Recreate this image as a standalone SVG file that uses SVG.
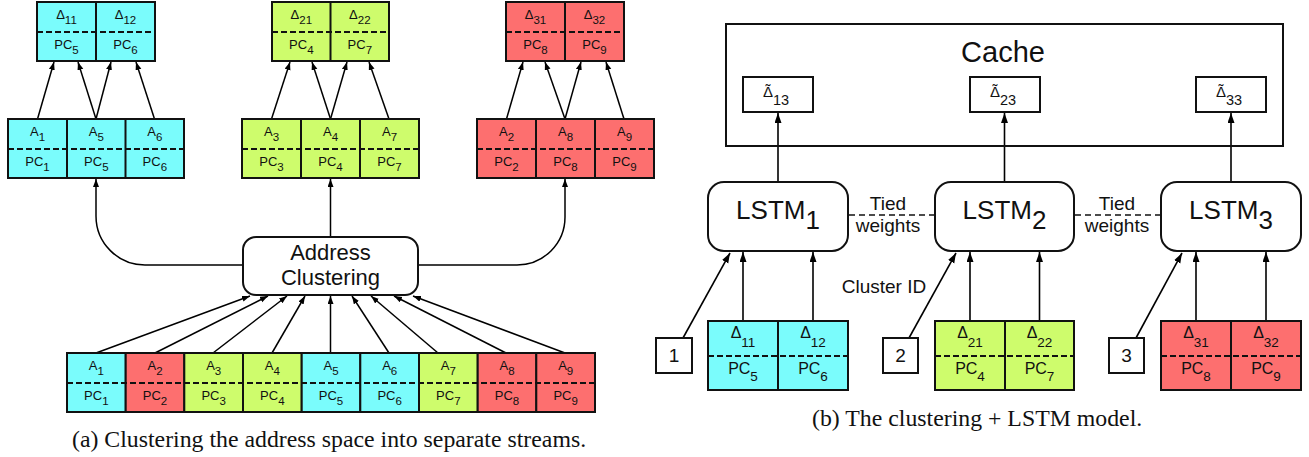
<svg xmlns="http://www.w3.org/2000/svg" width="1309" height="457" viewBox="0 0 1309 457">
<style>
.cell{stroke:#111;stroke-width:2}
.cy{fill:#7AFCFC}.gr{fill:#CEFC6C}.rd{fill:#FD6F6F}
.div{stroke:#111;stroke-width:2}
.dash{stroke:#111;stroke-width:2;stroke-dasharray:6 3}
.lbl{font-family:"Liberation Sans",Arial,sans-serif;font-size:13px;text-anchor:middle;fill:#111}
.sub{font-size:11.5px}
.lbl2{font-family:"Liberation Sans",Arial,sans-serif;font-size:16px;text-anchor:middle;fill:#111}
.sub2{font-size:13.5px}
.box{fill:#fff;stroke:#111;stroke-width:2}
.conn{stroke:#000;stroke-width:1.5;fill:none;marker-end:url(#ah)}
.conn2{stroke:#000;stroke-width:1.6;fill:none;marker-end:url(#ah2)}
.tie{stroke:#111;stroke-width:1.5;stroke-dasharray:6 4;fill:none}
.big{font-family:"Liberation Sans",Arial,sans-serif;fill:#111;text-anchor:middle}
.dt{font-family:"Liberation Sans",Arial,sans-serif;fill:#111;font-size:15px}
.dts{font-size:14.5px}
.cap{font-family:"Liberation Serif","Times New Roman",serif;font-size:23.8px;fill:#111}
</style>
<defs>
<marker id="ah" markerUnits="userSpaceOnUse" markerWidth="9" markerHeight="7" refX="8" refY="3" orient="auto"><path d="M0,0 L8,3 L0,6 z" fill="#000"/></marker>
<marker id="ah2" markerUnits="userSpaceOnUse" markerWidth="11" markerHeight="8" refX="10" refY="3.5" orient="auto"><path d="M0,0 L10,3.5 L0,7 z" fill="#000"/></marker>
</defs>
<rect width="1309" height="457" fill="#fff"/>

<!-- connectors -->
<g id="connectors">
<line class="conn" x1="37.5" y1="119" x2="54" y2="62"/>
<line class="conn" x1="96" y1="119" x2="78" y2="62"/>
<line class="conn" x1="96" y1="119" x2="111" y2="62"/>
<line class="conn" x1="154.5" y1="119" x2="136" y2="62"/>
<line class="conn" x1="271.5" y1="119" x2="290" y2="62"/>
<line class="conn" x1="330.5" y1="119" x2="312" y2="62"/>
<line class="conn" x1="330.5" y1="119" x2="347" y2="62"/>
<line class="conn" x1="389" y1="119" x2="369" y2="62"/>
<line class="conn" x1="506.5" y1="119" x2="523" y2="62"/>
<line class="conn" x1="565" y1="119" x2="545" y2="62"/>
<line class="conn" x1="565" y1="119" x2="581" y2="62"/>
<line class="conn" x1="624" y1="119" x2="606" y2="62"/>
<path class="conn" d="M243,265 H145 A49,49 0 0 1 96,216 V179"/>
<line class="conn" x1="330.5" y1="237" x2="330.5" y2="179"/>
<path class="conn" d="M418,265 H517 A48,48 0 0 0 565,217 V179"/>
<line class="conn" x1="96" y1="353" x2="250" y2="296"/>
<line class="conn" x1="155" y1="353" x2="268" y2="296"/>
<line class="conn" x1="213" y1="353" x2="287" y2="296"/>
<line class="conn" x1="272" y1="353" x2="305" y2="296"/>
<line class="conn" x1="330.5" y1="353" x2="330.5" y2="296"/>
<line class="conn" x1="389" y1="353" x2="352" y2="296"/>
<line class="conn" x1="438" y1="353" x2="371" y2="296"/>
<line class="conn" x1="506" y1="353" x2="394" y2="296"/>
<line class="conn" x1="565" y1="353" x2="413" y2="296"/>
<line class="conn2" x1="778" y1="182" x2="778" y2="113"/>
<line class="conn2" x1="1004.5" y1="182" x2="1004.5" y2="113"/>
<line class="conn2" x1="1231" y1="182" x2="1231" y2="113"/>
<line class="conn2" x1="743" y1="321" x2="743" y2="252"/>
<line class="conn2" x1="813" y1="321" x2="813" y2="252"/>
<line class="conn2" x1="970" y1="321" x2="970" y2="252"/>
<line class="conn2" x1="1039.5" y1="321" x2="1039.5" y2="252"/>
<line class="conn2" x1="1196" y1="321" x2="1196" y2="252"/>
<line class="conn2" x1="1266" y1="321" x2="1266" y2="252"/>
<line class="conn2" x1="683" y1="338" x2="730" y2="253"/>
<line class="conn2" x1="909" y1="338" x2="956" y2="253"/>
<line class="conn2" x1="1136" y1="338" x2="1182" y2="253"/>
<line class="tie" x1="849" y1="215" x2="934" y2="215"/>
<line class="tie" x1="1075" y1="215" x2="1160" y2="215"/>
</g>

<g id="top-cyan">
<rect class="cell cy" x="37" y="2" width="118" height="59"/>
<line class="div" x1="96" y1="2" x2="96" y2="61"/>
<line class="dash" x1="37" y1="32" x2="155" y2="32"/>
<text class="lbl" x="66.5" y="19">Δ<tspan class="sub" dy="5">11</tspan></text>
<text class="lbl" x="66.5" y="49">PC<tspan class="sub" dy="4.5">5</tspan></text>
<text class="lbl" x="125.5" y="19">Δ<tspan class="sub" dy="5">12</tspan></text>
<text class="lbl" x="125.5" y="49">PC<tspan class="sub" dy="4.5">6</tspan></text>
</g>
<g id="top-green">
<rect class="cell gr" x="272" y="2" width="117" height="59"/>
<line class="div" x1="330.5" y1="2" x2="330.5" y2="61"/>
<line class="dash" x1="272" y1="32" x2="389" y2="32"/>
<text class="lbl" x="301.3" y="19">Δ<tspan class="sub" dy="5">21</tspan></text>
<text class="lbl" x="301.3" y="49">PC<tspan class="sub" dy="4.5">4</tspan></text>
<text class="lbl" x="359.8" y="19">Δ<tspan class="sub" dy="5">22</tspan></text>
<text class="lbl" x="359.8" y="49">PC<tspan class="sub" dy="4.5">7</tspan></text>
</g>
<g id="top-red">
<rect class="cell rd" x="506" y="2" width="118" height="59"/>
<line class="div" x1="565" y1="2" x2="565" y2="61"/>
<line class="dash" x1="506" y1="32" x2="624" y2="32"/>
<text class="lbl" x="535.5" y="19">Δ<tspan class="sub" dy="5">31</tspan></text>
<text class="lbl" x="535.5" y="49">PC<tspan class="sub" dy="4.5">8</tspan></text>
<text class="lbl" x="594.5" y="19">Δ<tspan class="sub" dy="5">32</tspan></text>
<text class="lbl" x="594.5" y="49">PC<tspan class="sub" dy="4.5">9</tspan></text>
</g>

<g id="mid-cyan">
<rect class="cell cy" x="8" y="119" width="176" height="59"/>
<line class="div" x1="67" y1="119" x2="67" y2="178"/>
<line class="div" x1="125.5" y1="119" x2="125.5" y2="178"/>
<line class="dash" x1="8" y1="149" x2="184" y2="149"/>
<text class="lbl" x="37.5" y="136">A<tspan class="sub" dy="5">1</tspan></text>
<text class="lbl" x="37.5" y="166">PC<tspan class="sub" dy="4.5">1</tspan></text>
<text class="lbl" x="96.3" y="136">A<tspan class="sub" dy="5">5</tspan></text>
<text class="lbl" x="96.3" y="166">PC<tspan class="sub" dy="4.5">5</tspan></text>
<text class="lbl" x="154.8" y="136">A<tspan class="sub" dy="5">6</tspan></text>
<text class="lbl" x="154.8" y="166">PC<tspan class="sub" dy="4.5">6</tspan></text>
</g>
<g id="mid-green">
<rect class="cell gr" x="242" y="119" width="177" height="59"/>
<line class="div" x1="301" y1="119" x2="301" y2="178"/>
<line class="div" x1="360" y1="119" x2="360" y2="178"/>
<line class="dash" x1="242" y1="149" x2="419" y2="149"/>
<text class="lbl" x="271.5" y="136">A<tspan class="sub" dy="5">3</tspan></text>
<text class="lbl" x="271.5" y="166">PC<tspan class="sub" dy="4.5">3</tspan></text>
<text class="lbl" x="330.5" y="136">A<tspan class="sub" dy="5">4</tspan></text>
<text class="lbl" x="330.5" y="166">PC<tspan class="sub" dy="4.5">4</tspan></text>
<text class="lbl" x="389.5" y="136">A<tspan class="sub" dy="5">7</tspan></text>
<text class="lbl" x="389.5" y="166">PC<tspan class="sub" dy="4.5">7</tspan></text>
</g>
<g id="mid-red">
<rect class="cell rd" x="477" y="119" width="177" height="59"/>
<line class="div" x1="536" y1="119" x2="536" y2="178"/>
<line class="div" x1="595" y1="119" x2="595" y2="178"/>
<line class="dash" x1="477" y1="149" x2="654" y2="149"/>
<text class="lbl" x="506.5" y="136">A<tspan class="sub" dy="5">2</tspan></text>
<text class="lbl" x="506.5" y="166">PC<tspan class="sub" dy="4.5">2</tspan></text>
<text class="lbl" x="565.5" y="136">A<tspan class="sub" dy="5">8</tspan></text>
<text class="lbl" x="565.5" y="166">PC<tspan class="sub" dy="4.5">8</tspan></text>
<text class="lbl" x="624.5" y="136">A<tspan class="sub" dy="5">9</tspan></text>
<text class="lbl" x="624.5" y="166">PC<tspan class="sub" dy="4.5">9</tspan></text>
</g>

<g id="address-clustering">
<rect class="box" x="243" y="237" width="175" height="58" rx="13" ry="13"/>
<text class="big" x="330.5" y="260" font-size="22">Address</text>
<text class="big" x="330.5" y="285" font-size="22">Clustering</text>
</g>

<g id="bottom-row">
<rect class="cell cy" x="67" y="353" width="58.7" height="59"/>
<rect class="cell rd" x="125.7" y="353" width="58.6" height="59"/>
<rect class="cell gr" x="184.3" y="353" width="58.7" height="59"/>
<rect class="cell gr" x="243" y="353" width="58.7" height="59"/>
<rect class="cell cy" x="301.7" y="353" width="58.6" height="59"/>
<rect class="cell cy" x="360.3" y="353" width="58.7" height="59"/>
<rect class="cell gr" x="419" y="353" width="58.7" height="59"/>
<rect class="cell rd" x="477.7" y="353" width="58.6" height="59"/>
<rect class="cell rd" x="536.3" y="353" width="58.7" height="59"/>
<line class="dash" x1="67" y1="383" x2="595" y2="383"/>
<text class="lbl" x="96.3" y="370">A<tspan class="sub" dy="5">1</tspan></text>
<text class="lbl" x="96.3" y="400">PC<tspan class="sub" dy="4.5">1</tspan></text>
<text class="lbl" x="155" y="370">A<tspan class="sub" dy="5">2</tspan></text>
<text class="lbl" x="155" y="400">PC<tspan class="sub" dy="4.5">2</tspan></text>
<text class="lbl" x="213.7" y="370">A<tspan class="sub" dy="5">3</tspan></text>
<text class="lbl" x="213.7" y="400">PC<tspan class="sub" dy="4.5">3</tspan></text>
<text class="lbl" x="272.3" y="370">A<tspan class="sub" dy="5">4</tspan></text>
<text class="lbl" x="272.3" y="400">PC<tspan class="sub" dy="4.5">4</tspan></text>
<text class="lbl" x="331" y="370">A<tspan class="sub" dy="5">5</tspan></text>
<text class="lbl" x="331" y="400">PC<tspan class="sub" dy="4.5">5</tspan></text>
<text class="lbl" x="389.7" y="370">A<tspan class="sub" dy="5">6</tspan></text>
<text class="lbl" x="389.7" y="400">PC<tspan class="sub" dy="4.5">6</tspan></text>
<text class="lbl" x="448.3" y="370">A<tspan class="sub" dy="5">7</tspan></text>
<text class="lbl" x="448.3" y="400">PC<tspan class="sub" dy="4.5">7</tspan></text>
<text class="lbl" x="507" y="370">A<tspan class="sub" dy="5">8</tspan></text>
<text class="lbl" x="507" y="400">PC<tspan class="sub" dy="4.5">8</tspan></text>
<text class="lbl" x="565.7" y="370">A<tspan class="sub" dy="5">9</tspan></text>
<text class="lbl" x="565.7" y="400">PC<tspan class="sub" dy="4.5">9</tspan></text>
</g>

<text class="cap" x="72" y="447">(a) Clustering the address space into separate streams.</text>

<g id="cache">
<rect x="726" y="24" width="557" height="122" fill="none" stroke="#111" stroke-width="2"/>
<text class="big" x="1003" y="62" font-size="29">Cache</text>
</g>
<g id="cache-d13">
<rect class="box" x="743" y="77" width="70" height="35"/>
<text class="dt" x="763" y="97">Δ<tspan dx="-7.5" dy="-2">˜</tspan><tspan class="dts" dx="2.5" dy="10">13</tspan></text>
</g>
<g id="cache-d23">
<rect class="box" x="970" y="77" width="70" height="35"/>
<text class="dt" x="990" y="97">Δ<tspan dx="-7.5" dy="-2">˜</tspan><tspan class="dts" dx="2.5" dy="10">23</tspan></text>
</g>
<g id="cache-d33">
<rect class="box" x="1196" y="77" width="70" height="35"/>
<text class="dt" x="1216" y="97">Δ<tspan dx="-7.5" dy="-2">˜</tspan><tspan class="dts" dx="2.5" dy="10">33</tspan></text>
</g>

<g id="lstm1">
<rect class="box" x="708" y="182" width="140" height="69" rx="16" ry="16"/>
<text class="big" x="778" y="219" font-size="26">LSTM<tspan dy="10">1</tspan></text>
</g>
<g id="lstm2">
<rect class="box" x="935" y="182" width="139" height="69" rx="16" ry="16"/>
<text class="big" x="1004.5" y="219" font-size="26">LSTM<tspan dy="10">2</tspan></text>
</g>
<g id="lstm3">
<rect class="box" x="1161" y="182" width="140" height="69" rx="16" ry="16"/>
<text class="big" x="1231" y="219" font-size="26">LSTM<tspan dy="10">3</tspan></text>
</g>

<g id="tied-labels">
<text class="big" x="888" y="210" font-size="19">Tied</text>
<text class="big" x="888" y="232" font-size="19">weights</text>
<text class="big" x="1117" y="210" font-size="19">Tied</text>
<text class="big" x="1117" y="232" font-size="19">weights</text>
</g>
<text class="big" x="884" y="293" font-size="19">Cluster ID</text>

<g id="cid1">
<rect class="box" x="656" y="338" width="36" height="35"/>
<text class="big" x="674" y="362" font-size="19">1</text>
</g>
<g id="cid2">
<rect class="box" x="883" y="338" width="35" height="35"/>
<text class="big" x="900.5" y="362" font-size="19">2</text>
</g>
<g id="cid3">
<rect class="box" x="1109" y="338" width="35" height="35"/>
<text class="big" x="1126.5" y="362" font-size="19">3</text>
</g>

<g id="in-cyan">
<rect class="cell cy" x="708" y="321" width="140" height="69"/>
<line class="div" x1="778" y1="321" x2="778" y2="390"/>
<line class="dash" x1="708" y1="356" x2="848" y2="356"/>
<text class="lbl2" x="743" y="338">Δ<tspan class="sub2" dy="8.5">11</tspan></text>
<text class="lbl2" x="743" y="374">PC<tspan class="sub2" dy="6.5">5</tspan></text>
<text class="lbl2" x="813" y="338">Δ<tspan class="sub2" dy="8.5">12</tspan></text>
<text class="lbl2" x="813" y="374">PC<tspan class="sub2" dy="6.5">6</tspan></text>
</g>
<g id="in-green">
<rect class="cell gr" x="935" y="321" width="139" height="69"/>
<line class="div" x1="1005" y1="321" x2="1005" y2="390"/>
<line class="dash" x1="935" y1="356" x2="1074" y2="356"/>
<text class="lbl2" x="970" y="338">Δ<tspan class="sub2" dy="8.5">21</tspan></text>
<text class="lbl2" x="970" y="374">PC<tspan class="sub2" dy="6.5">4</tspan></text>
<text class="lbl2" x="1039.5" y="338">Δ<tspan class="sub2" dy="8.5">22</tspan></text>
<text class="lbl2" x="1039.5" y="374">PC<tspan class="sub2" dy="6.5">7</tspan></text>
</g>
<g id="in-red">
<rect class="cell rd" x="1161" y="321" width="140" height="69"/>
<line class="div" x1="1231" y1="321" x2="1231" y2="390"/>
<line class="dash" x1="1161" y1="356" x2="1301" y2="356"/>
<text class="lbl2" x="1196" y="338">Δ<tspan class="sub2" dy="8.5">31</tspan></text>
<text class="lbl2" x="1196" y="374">PC<tspan class="sub2" dy="6.5">8</tspan></text>
<text class="lbl2" x="1266" y="338">Δ<tspan class="sub2" dy="8.5">32</tspan></text>
<text class="lbl2" x="1266" y="374">PC<tspan class="sub2" dy="6.5">9</tspan></text>
</g>

<text class="cap" x="812" y="426">(b) The clustering + LSTM model.</text>
</svg>
